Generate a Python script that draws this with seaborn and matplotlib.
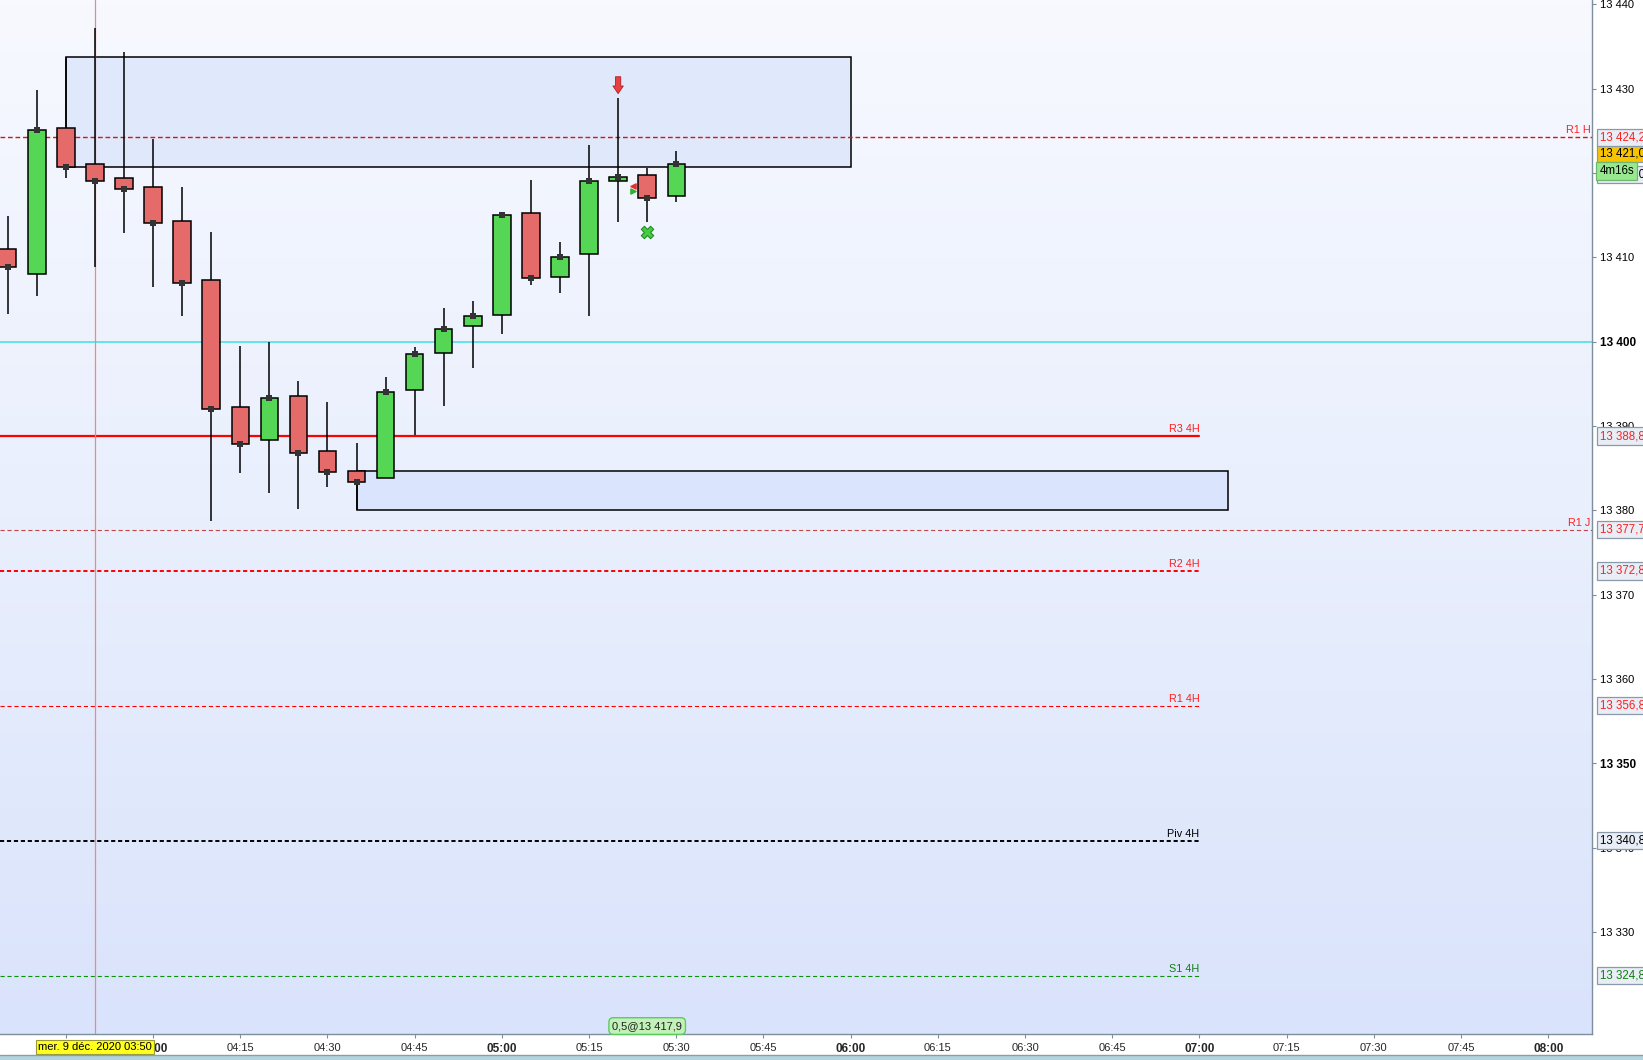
import numpy as np
import pandas as pd
import matplotlib
matplotlib.use("Agg")
import matplotlib.pyplot as plt
import matplotlib.dates as mdates
import matplotlib.transforms as mtrans
from matplotlib.colors import LinearSegmentedColormap
from matplotlib.patches import Rectangle
import seaborn as sns

sns.set_theme(style="white")
plt.rcParams["font.family"] = ["Liberation Sans", "DejaVu Sans"]
plt.rcParams["lines.scale_dashes"] = False

# ── Data: 5-minute candles, 9 Dec 2020 ───────────────────────────────────────
start = "2020-12-09 03:35"
opens  = [13411.0, 13408.0, 13425.3, 13421.0, 13419.4, 13418.3, 13414.3, 13407.3,
          13392.3, 13388.3, 13393.5, 13387.0, 13384.7, 13383.8, 13394.2, 13398.7,
          13401.8, 13403.2, 13415.3, 13407.7, 13410.4, 13419.0, 13419.8, 13417.3]
highs  = [13414.9, 13429.8, 13433.8, 13437.2, 13434.3, 13424.0, 13418.3, 13413.0,
          13399.5, 13400.0, 13395.3, 13392.8, 13388.0, 13395.8, 13399.4, 13404.0,
          13404.8, 13415.3, 13419.1, 13411.8, 13423.3, 13428.9, 13420.6, 13422.6]
lows   = [13403.3, 13405.4, 13419.4, 13408.8, 13412.9, 13406.5, 13403.0, 13378.7,
          13384.4, 13382.0, 13380.2, 13382.7, 13380.0, 13383.8, 13388.9, 13392.4,
          13396.9, 13400.9, 13406.7, 13405.8, 13403.0, 13414.2, 13414.2, 13416.5]
closes = [13408.9, 13425.1, 13420.7, 13419.0, 13418.1, 13414.0, 13407.0, 13392.0,
          13387.9, 13393.3, 13386.8, 13384.5, 13383.4, 13394.0, 13398.5, 13401.5,
          13403.0, 13415.0, 13407.5, 13410.0, 13419.0, 13419.5, 13417.0, 13421.0]

# pivot levels
level_names  = ["R1 H", "R3 4H", "R1 J", "R2 4H", "R1 4H", "Piv 4H", "S1 4H"]
level_values = [13424.2, 13388.8, 13377.7, 13372.8, 13356.8, 13340.8, 13324.8]
round_level  = 13400.0

# zones (start time, end time, top, bottom)
zone_start  = ["2020-12-09 03:45", "2020-12-09 04:35"]
zone_end    = ["2020-12-09 06:00", "2020-12-09 07:05"]
zone_top    = [13433.8, 13384.7]
zone_bottom = [13420.7, 13380.0]

last_price = 13421.0
timer_text = "4m16s"
hidden_price = 13420.0
order_text = "0,5@13 417,9"
cursor_time = "2020-12-09 03:50"
cursor_label = "mer. 9 déc. 2020 03:50"

# ── Styles ───────────────────────────────────────────────────────────────────
GREEN, RED = "#55D655", "#E56B6B"
level_style = {
    "R1 H":   dict(color="#E01010", lw=1.0, ls=(0, (3.4, 2.0)), end=None,  tc="#FF2020"),
    "R3 4H":  dict(color="#FF0000", lw=1.6, ls="-",             end="07:00", tc="#FF2020"),
    "R1 J":   dict(color="#C04848", lw=0.8, ls=(0, (3.0, 2.0)), end=None,  tc="#FF2020"),
    "R2 4H":  dict(color="#FF0000", lw=1.4, ls=(0, (3.0, 2.0)), end="07:00", tc="#FF2020"),
    "R1 4H":  dict(color="#FF0000", lw=0.8, ls=(0, (3.0, 2.0)), end="07:00", tc="#FF2020"),
    "Piv 4H": dict(color="#000000", lw=1.4, ls=(0, (3.0, 2.0)), end="07:00", tc="#000000"),
    "S1 4H":  dict(color="#109010", lw=0.8, ls=(0, (3.0, 2.0)), end="07:00", tc="#108010"),
}

times = pd.date_range(start, periods=len(opens), freq="5min")
x = mdates.date2num(times.to_pydatetime())
o, h, l, c = map(np.array, (opens, highs, lows, closes))
up = c >= o

def tnum(s):
    return mdates.date2num(pd.Timestamp(s).to_pydatetime())

xmin, xmax = tnum("2020-12-09 03:33:40"), tnum("2020-12-09 08:07:32")
ymin, ymax = 13317.9, 13440.5

fig = plt.figure(figsize=(16.43, 10.60), dpi=100)
fig.patch.set_facecolor("white")
ax = fig.add_axes([0, 1 - 1034 / 1060, 1592 / 1643, 1034 / 1060])
ax.set_xlim(xmin, xmax)
ax.set_ylim(ymin, ymax)

# background gradient
cmap = LinearSegmentedColormap.from_list("bg", ["#F7F9FF", "#E9EFFD", "#D9E3FB"])
ax.imshow(np.linspace(0, 1, 256).reshape(-1, 1), cmap=cmap, aspect="auto",
          extent=[xmin, xmax, ymin, ymax], origin="upper", zorder=0)

# zones
zfill = ["#E0E9FC", "#DAE4FC"]
for s, e, top, bot, fc in zip(zone_start, zone_end, zone_top, zone_bottom, zfill):
    ax.add_patch(Rectangle((tnum(s), bot), tnum(e) - tnum(s), top - bot,
                           facecolor=fc, edgecolor="black", lw=1.1, zorder=1))

# levels
for name, val in zip(level_names, level_values):
    st = level_style[name]
    xe = xmax if st["end"] is None else tnum("2020-12-09 " + st["end"])
    ax.plot([xmin, xe], [val, val], color=st["color"], lw=st["lw"], ls=st["ls"], zorder=2)
    lx = xe if st["end"] else xmax - (xmax - xmin) * 0.001
    ax.annotate(name, (lx, val), xytext=(0, 1.5), textcoords="offset points",
                ha="right", va="bottom", fontsize=7.8, color=st["tc"], zorder=3)
ax.axhline(round_level, color="#3CE0E8", lw=1.1, zorder=2)

# cursor line
ax.axvline(tnum(cursor_time), color="#EE8888", lw=0.9, zorder=2)

# candles
w = 3 / 1440
ax.vlines(x, l, h, color="black", lw=1.1, zorder=4)
ax.bar(x, c - o, bottom=o, width=w, color=np.where(up, GREEN, RED),
       edgecolor="black", linewidth=1.1, zorder=5)
sns.scatterplot(x=x, y=c, marker="s", color="#333333", s=16, linewidth=0,
                ax=ax, zorder=6, legend=False)

# signals
xs = tnum("2020-12-09 05:20")
ax.annotate("", xy=(xs, 13429.4), xytext=(xs, 13431.4),
            arrowprops=dict(arrowstyle="simple,head_width=0.75,head_length=0.55,tail_width=0.38",
                            mutation_scale=10, fc="#E84040", ec="#B02020", lw=0.6,
                            shrinkA=0, shrinkB=0), zorder=7)
ax.scatter([tnum("2020-12-09 05:25")], [13413.0], marker="X", s=80,
           color="#44CC44", edgecolor="#209020", linewidth=0.8, zorder=7)
xm = tnum("2020-12-09 05:22:30")
ax.scatter([xm], [13418.5], marker="<", s=14, color="#E03030", zorder=7)
ax.scatter([xm], [13417.9], marker=">", s=14, color="#30B030", zorder=7)

# axes styling
for side in ["left", "top"]:
    ax.spines[side].set_visible(False)
for side in ["right", "bottom"]:
    ax.spines[side].set_color("#7F8E9C")
    ax.spines[side].set_linewidth(1.0)
ax.grid(False)

ax.yaxis.tick_right()
yt = np.arange(13330, 13441, 10)
ax.set_yticks(yt)
ax.set_yticklabels([f"{v:,}".replace(",", " ") for v in yt])
ax.tick_params(axis="y", direction="out", length=3, width=0.8, color="#7F8E9C",
               pad=2.5, labelsize=8, labelcolor="black", right=True)
for lab, v in zip(ax.get_yticklabels(), yt):
    if v % 50 == 0:
        lab.set_fontweight("bold")
        lab.set_fontsize(8.5)

ax.xaxis.set_major_locator(mdates.MinuteLocator(byminute=[0, 15, 30, 45]))
ax.xaxis.set_major_formatter(mdates.DateFormatter("%H:%M"))
ax.tick_params(axis="x", direction="out", length=3, width=0.8, color="#7F8E9C",
               pad=3.5, labelsize=8, bottom=True)
fig.canvas.draw()
for lab in ax.get_xticklabels():
    if lab.get_text().endswith(":00"):
        lab.set_fontweight("bold")
        lab.set_fontsize(8.5)

# right-hand price labels
bt = mtrans.blended_transform_factory(ax.transAxes, ax.transData)
def price_box(v, txt, tc, fc, ec, ypos=None):
    ax.text(1.0048, v if ypos is None else ypos, txt, transform=bt, ha="left",
            va="center", fontsize=8.3, color=tc, clip_on=False, zorder=20,
            bbox=dict(boxstyle="square,pad=0.22", fc=fc, ec=ec, lw=0.9))

price_box(hidden_price, "13 420,0", "black", "#E8EDF6", "#8A9AAA", ypos=13419.8)
price_box(last_price, "13 421,0", "black", "#F8C400", "#8A9AAA", ypos=13422.3)
ax.text(1.0048, 13420.2, timer_text, transform=bt, ha="left", va="center", fontsize=8.3,
        color="black", clip_on=False, zorder=21,
        bbox=dict(boxstyle="square,pad=0.28", fc="#98E890", ec="#6DB86D", lw=0.9))
for name, val in zip(level_names, level_values):
    tc = level_style[name]["tc"]
    price_box(val, f"{val:,.1f}".replace(",", " ").replace(".", ","), tc,
              "#E8EDF6", "#8A9AAA")

# order label at the bottom
ax.text(tnum("2020-12-09 05:25"), ymin + 0.35, order_text, ha="center", va="bottom",
        fontsize=8, color="#202020", zorder=20,
        bbox=dict(boxstyle="round,pad=0.3,rounding_size=0.4", fc="#C2F2BA",
                  ec="#5CCB5C", lw=1.0))

# cursor date label
bx = mtrans.blended_transform_factory(ax.transData, ax.transAxes)
ax.text(tnum(cursor_time), -0.0127, cursor_label, transform=bx, ha="center",
        va="center", fontsize=8, color="black", clip_on=False, zorder=30,
        bbox=dict(boxstyle="square,pad=0.18", fc="#FFFF20", ec="#9A9A30", lw=0.8))

# bottom strip
fig.patches.append(Rectangle((0, 0), 1, 5 / 1060, transform=fig.transFigure,
                             facecolor="#B3D3DF", edgecolor="none"))
fig.lines.append(plt.Line2D([0, 1], [5 / 1060, 5 / 1060], transform=fig.transFigure,
                            color="#8C9CAA", lw=1.0))

fig.savefig("out.png", dpi=100, facecolor="white")
